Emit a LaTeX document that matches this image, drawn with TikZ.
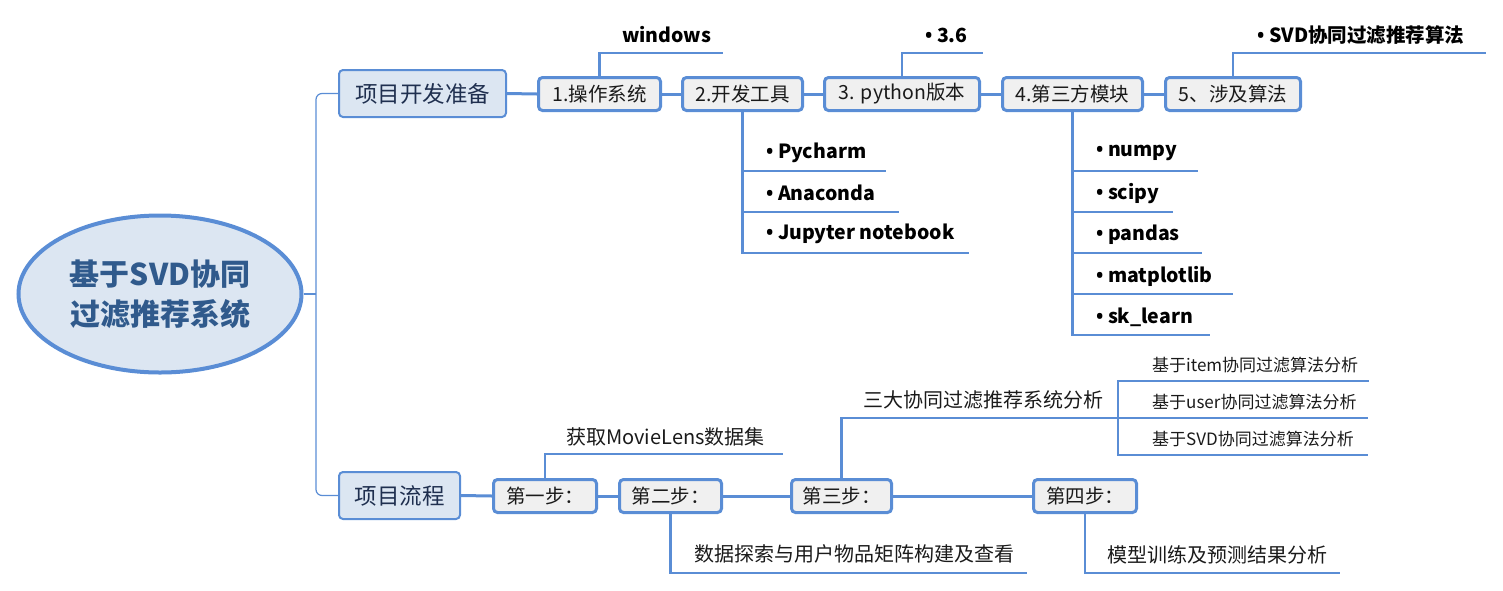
\documentclass[tikz,border=0pt]{standalone}
\usepackage{fontspec}
\setmainfont{Noto Sans CJK SC}
\newfontfamily\bulletfont{Open Sans}
\newcommand{\bul}{{\bulletfont\bfseries •} }
\usetikzlibrary{shapes.geometric}
\definecolor{lineblue}{HTML}{5A8DD5}
\definecolor{topicfill}{HTML}{DCE6F2}
\definecolor{boxgray}{HTML}{F0F0F0}
\definecolor{roottext}{HTML}{305A8C}
\definecolor{topictext}{HTML}{1F2F4F}
\definecolor{labeltext}{HTML}{1A1A1A}
\begin{document}
\begin{tikzpicture}[x=1pt,y=-1pt,
  rootnode/.style={ellipse, draw=lineblue, line width=4pt, fill=topicfill, text=roottext,
    minimum width=283pt, minimum height=157pt, inner sep=0pt, align=center,
    font=\fontsize{30}{40}\selectfont\bfseries},
  topicbox/.style={draw=lineblue, line width=2pt, fill=topicfill, rounded corners=4pt,
    minimum height=47pt, inner sep=0pt, text=topictext, font=\fontsize{22.5}{26}\selectfont},
  stepbox/.style={draw=lineblue, line width=3pt, fill=boxgray, rounded corners=4pt,
    minimum height=33pt, inner sep=0pt, text=labeltext, font=\fontsize{19.5}{23}\selectfont},
  bolditem/.style={anchor=west, inner sep=0pt, text=black, font=\fontsize{19.5}{23}\selectfont\bfseries},
  plainitem/.style={anchor=west, inner sep=0pt, text=labeltext, font=\fontsize{20}{24}\selectfont},
  smallitem/.style={anchor=west, inner sep=0pt, text=labeltext, font=\fontsize{17}{20}\selectfont},
  trunk/.style={draw=lineblue, line width=1.2pt, rounded corners=6pt},
  conn/.style={draw=lineblue, line width=3pt},
  callline/.style={draw=lineblue, line width=2.6pt},
]
\useasboundingbox (0,0) rectangle (1503,590);

% root and main topics
\node[rootnode] (root) at (160,294) {基于SVD协同\\过滤推荐系统};
\node[topicbox, minimum width=167pt] (prep) at (422.5,93.5) {项目开发准备};
\node[topicbox, minimum width=121pt] (flow) at (399.5,495.5) {项目流程};

% trunk
\coordinate (tr) at (316,294);
\draw[trunk] (root.east) -- (tr);
\draw[trunk] (prep.west) -- (316,93.5) |- (flow.west);

% top steps
\node[stepbox, minimum width=122pt] (s1) at (599.5,94) {1.操作系统};
\node[stepbox, minimum width=120pt] (s2) at (742.5,94) {2.开发工具};
\node[stepbox, minimum width=155pt] (s3) at (902,94) {3. python版本};
\node[stepbox, minimum width=140pt] (s4) at (1072.5,94) {4.第三方模块};
\node[stepbox, minimum width=135pt] (s5) at (1233,94) {5、涉及算法};
\draw[conn] (prep.east) -- (s1.west);
\draw[conn] (s1.east) -- (s2.west);
\draw[conn] (s2.east) -- (s3.west);
\draw[conn] (s3.east) -- (s4.west);
\draw[conn] (s4.east) -- (s5.west);

% callouts above
\node[bolditem] (winT) at (622,35) {windows};
\coordinate (winE) at (723,53);
\draw[callline] (s1.north) |- (winE);
\node[bolditem] (pyvT) at (925,35) {\bul 3.6};
\coordinate (pyvE) at (983,53);
\draw[callline] (s3.north) |- (pyvE);
\node[bolditem] (algT) at (1257,35) {\bul SVD协同过滤推荐算法};
\coordinate (algE) at (1486,53);
\draw[callline] (s5.north) |- (algE);

% tools list
\node[bolditem] (t1) at (766,153) {\bul Pycharm};
\node[bolditem] (t2) at (766,193) {\bul Anaconda};
\node[bolditem] (t3) at (766,234) {\bul Jupyter notebook};
\coordinate (t1E) at (886,171);
\coordinate (t2E) at (899,212);
\coordinate (t3E) at (969,253);
\draw[callline] (s2.south) |- (t1E);
\draw[callline] (s2.south) |- (t2E);
\draw[callline] (s2.south) |- (t3E);

% modules list
\node[bolditem] (m1) at (1096,153) {\bul numpy};
\node[bolditem] (m2) at (1096,194) {\bul scipy};
\node[bolditem] (m3) at (1096,235) {\bul pandas};
\node[bolditem] (m4) at (1096,276) {\bul matplotlib};
\node[bolditem] (m5) at (1096,317) {\bul sk\_learn};
\coordinate (m1E) at (1198,171);
\coordinate (m2E) at (1173,212);
\coordinate (m3E) at (1202,253);
\coordinate (m4E) at (1233,294);
\coordinate (m5E) at (1210,335);
\draw[callline] (s4.south) |- (m1E);
\draw[callline] (s4.south) |- (m2E);
\draw[callline] (s4.south) |- (m3E);
\draw[callline] (s4.south) |- (m4E);
\draw[callline] (s4.south) |- (m5E);

% flow steps
\node[stepbox, minimum width=103pt] (f1) at (545,496) {第一步：};
\node[stepbox, minimum width=102pt] (f2) at (670.5,496) {第二步：};
\node[stepbox, minimum width=100pt] (f3) at (841.5,496) {第三步：};
\node[stepbox, minimum width=103pt] (f4) at (1085,496) {第四步：};
\draw[conn] (flow.east) -- (f1.west);
\draw[conn] (f1.east) -- (f2.west);
\draw[conn] (f2.east) -- (f3.west);
\draw[conn] (f3.east) -- (f4.west);

% flow callouts
\node[plainitem] (mlT) at (566,437) {获取MovieLens数据集};
\coordinate (mlE) at (783,454);
\draw[callline] (f1.north) |- (mlE);

\node[plainitem] (deT) at (694,554) {数据探索与用户物品矩阵构建及查看};
\coordinate (deE) at (1027,573);
\draw[callline] (f2.south) |- (deE);

\node[plainitem] (cfT) at (863,400) {三大协同过滤推荐系统分析};
\coordinate (br) at (1118,418);
\draw[callline] (f3.north) |- (br);
\node[smallitem] (c1) at (1152,365) {基于item协同过滤算法分析};
\node[smallitem] (c2) at (1152,402) {基于user协同过滤算法分析};
\node[smallitem] (c3) at (1152,439) {基于SVD协同过滤算法分析};
\coordinate (c1E) at (1369,381);
\coordinate (c2E) at (1368,418);
\coordinate (c3E) at (1368,455);
\draw[callline] (br) |- (c1E);
\draw[callline] (br) -- (c2E);
\draw[callline] (br) |- (c3E);

\node[plainitem] (mtT) at (1107,555) {模型训练及预测结果分析};
\coordinate (mtE) at (1340,573);
\draw[callline] (f4.south) |- (mtE);
\end{tikzpicture}
\end{document}
